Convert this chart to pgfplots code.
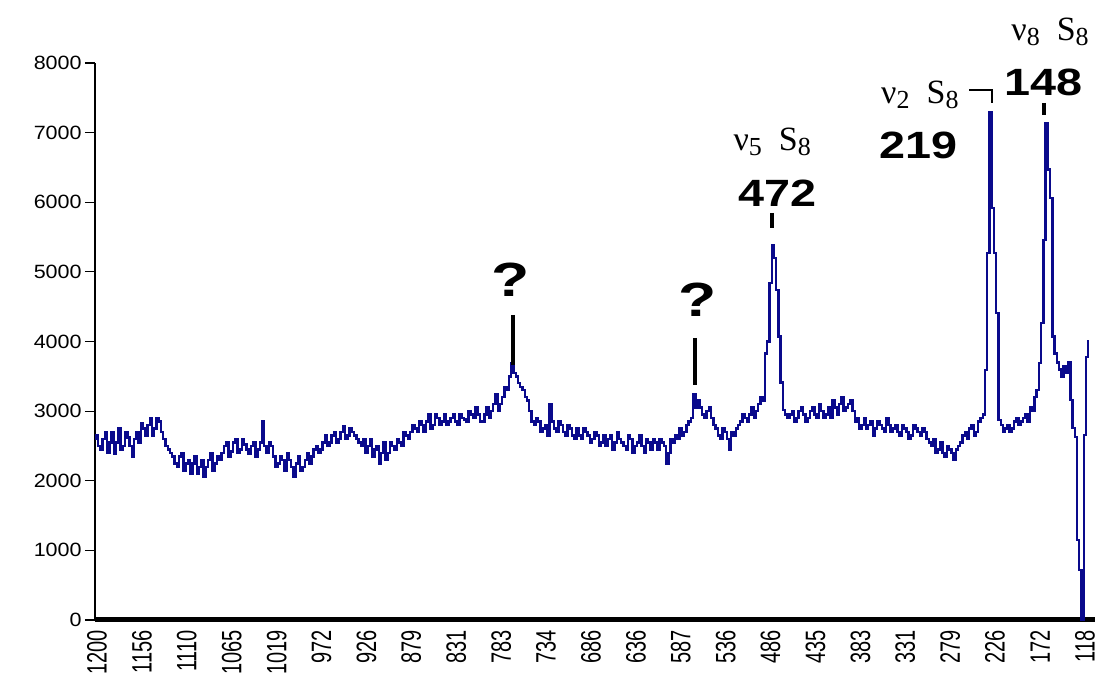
\documentclass[border=0pt]{standalone}
\usepackage{pgfplots}
\pgfplotsset{compat=1.18}
\usepackage{fontspec}
\setmainfont{Liberation Sans}
\newfontfamily\timesf{Liberation Serif}
\usepackage{graphicx}
\usetikzlibrary{calc}
\definecolor{navy}{RGB}{10,10,140}
\newcommand{\xl}[1]{\scalebox{1.4}[1]{\rotatebox{90}{#1}}}
\newcommand{\nulab}[1]{{\timesf\fontsize{17}{17}\selectfont ν\raisebox{-0.35ex}{\fontsize{13}{13}\selectfont #1}\hspace{0.5em}S\raisebox{-0.35ex}{\fontsize{13}{13}\selectfont 8}}}
\newcommand{\bnum}[1]{{\bfseries\fontsize{19}{19}\selectfont\scalebox{1.23}[1]{#1}}}
\newcommand{\qm}{{\bfseries\fontsize{24}{24}\selectfont\scalebox{1.3}[1]{?}}}

\pgfplotstableread{
k v
-0.9 2600
0 2650
1 2500
2 2450
3 2600
4 2700
5 2400
6 2550
7 2700
8 2380
9 2550
10 2750
11 2450
12 2500
13 2700
14 2620
15 2500
16 2350
17 2600
18 2700
19 2550
20 2820
21 2750
22 2650
23 2800
24 2900
25 2650
26 2750
27 2900
28 2850
29 2700
30 2600
31 2500
32 2450
33 2400
34 2350
35 2250
36 2200
37 2350
38 2400
39 2150
40 2250
41 2300
42 2100
43 2250
44 2350
45 2100
46 2200
47 2300
48 2050
49 2200
50 2300
51 2400
52 2150
53 2250
54 2350
55 2300
56 2400
57 2500
58 2550
59 2350
60 2420
61 2550
62 2600
63 2400
64 2450
65 2600
66 2520
67 2450
68 2380
69 2500
70 2550
71 2350
72 2450
73 2550
74 2850
75 2500
76 2400
77 2550
78 2500
79 2350
80 2200
81 2250
82 2350
83 2300
84 2150
85 2400
86 2300
87 2200
88 2050
89 2250
90 2350
91 2150
92 2200
93 2300
94 2400
95 2250
96 2350
97 2450
98 2500
99 2400
100 2450
101 2550
102 2650
103 2500
104 2550
105 2650
106 2700
107 2550
108 2600
109 2700
110 2780
111 2600
112 2650
113 2750
114 2700
115 2650
116 2600
117 2550
118 2500
119 2600
120 2400
121 2500
122 2600
123 2350
124 2450
125 2500
126 2250
127 2400
128 2550
129 2300
130 2400
131 2550
132 2500
133 2450
134 2600
135 2550
136 2500
137 2700
138 2650
139 2600
140 2700
141 2800
142 2750
143 2700
144 2850
145 2800
146 2700
147 2850
148 2950
149 2750
150 2800
151 2950
152 2900
153 2800
154 2850
155 2950
156 2800
157 2850
158 2900
159 2950
160 2850
161 2800
162 2950
163 2900
164 2880
165 2850
166 3000
167 2950
168 2900
169 3050
170 2950
171 2850
172 2850
173 2950
174 3050
175 2900
176 3000
177 3100
178 3250
179 3000
180 3100
181 3200
182 3350
183 3300
184 3500
185 3690
186 3550
187 3500
188 3400
189 3350
190 3300
191 3200
192 3150
193 3000
194 2850
195 2800
196 2900
197 2850
198 2700
199 2750
200 2800
201 2650
202 3100
203 2850
204 2750
205 2700
206 2850
207 2800
208 2700
209 2650
210 2800
211 2750
212 2650
213 2600
214 2750
215 2650
216 2600
217 2750
218 2700
219 2650
220 2550
221 2600
222 2700
223 2650
224 2500
225 2550
226 2650
227 2500
228 2600
229 2650
230 2450
231 2550
232 2700
233 2600
234 2550
235 2500
236 2450
237 2650
238 2600
239 2400
240 2500
241 2550
242 2650
243 2500
244 2400
245 2600
246 2550
247 2450
248 2600
249 2550
250 2450
251 2600
252 2550
253 2500
254 2250
255 2400
256 2600
257 2550
258 2650
259 2600
260 2750
261 2650
262 2700
263 2800
264 2850
265 2900
266 3250
267 3050
268 3150
269 3050
270 2950
271 2900
272 3000
273 3050
274 2900
275 2800
276 2750
277 2650
278 2600
279 2750
280 2700
281 2600
282 2450
283 2700
284 2650
285 2750
286 2800
287 2850
288 2950
289 2900
290 2850
291 2950
292 3050
293 2900
294 3000
295 3100
296 3200
297 3150
298 3830
299 4000
300 4840
301 5390
302 5200
303 4740
304 4070
305 3410
306 3020
307 2950
308 2900
309 2950
310 3000
311 2850
312 2900
313 3000
314 3050
315 2950
316 2850
317 2900
318 3000
319 3050
320 2950
321 2900
322 3100
323 3000
324 2900
325 2950
326 3050
327 2900
328 3150
329 3050
330 2950
331 3100
332 3200
333 3000
334 3050
335 3100
336 3150
337 3000
338 2850
339 2900
340 2750
341 2800
342 2900
343 2750
344 2800
345 2850
346 2650
347 2750
348 2850
349 2800
350 2750
351 2700
352 2900
353 2800
354 2700
355 2750
356 2800
357 2700
358 2650
359 2800
360 2750
361 2700
362 2600
363 2650
364 2800
365 2750
366 2700
367 2650
368 2750
369 2700
370 2600
371 2550
372 2500
373 2600
374 2400
375 2450
376 2550
377 2400
378 2350
379 2500
380 2450
381 2400
382 2300
383 2450
384 2500
385 2550
386 2650
387 2700
388 2600
389 2750
390 2800
391 2650
392 2700
393 2850
394 2900
395 2950
396 3590
397 5270
398 7290
399 5920
400 5270
401 4410
402 2870
403 2800
404 2700
405 2750
406 2800
407 2700
408 2750
409 2850
410 2900
411 2800
412 2850
413 2900
414 2950
415 2850
416 3050
417 3000
418 3200
419 3300
420 3690
421 4270
422 5460
423 7140
424 6470
425 6060
426 4070
427 3830
428 3700
429 3600
430 3500
431 3650
432 3550
433 3700
434 3160
435 2760
436 2630
437 1150
438 720
439 0
440 2660
441 3780
442 4000
}\spectrum

\begin{document}
\begin{tikzpicture}
\begin{axis}[name=ax, scale only axis, width=500pt, height=278.5pt,
  xmin=-0.9, xmax=444.5, ymin=0, ymax=8000,
  axis x line*=bottom, axis y line*=left,
  x axis line style={line width=2.5pt,-},
  y axis line style={line width=0.6pt,-},
  tick align=outside, major tick length=5pt,
  xtick={0,20,...,440},
  xticklabels={\xl{1200},\xl{1156},\xl{1110},\xl{1065},\xl{1019},\xl{972},\xl{926},\xl{879},\xl{831},\xl{783},\xl{734},\xl{686},\xl{636},\xl{587},\xl{536},\xl{486},\xl{435},\xl{383},\xl{331},\xl{279},\xl{226},\xl{172},\xl{118}},
  xtick style={draw=none},
  xticklabel style={anchor=north, inner sep=0pt, font=\fontsize{10}{10}\selectfont},
  ytick={0,1000,...,8000},
  ytick style={line width=0.6pt, black},
  yticklabel={\scalebox{1.12}[1]{\pgfmathprintnumber[assume math mode=true,1000 sep={}]{\tick}}},
  yticklabel style={anchor=east, inner sep=0pt, xshift=-1.5pt, font=\fontsize{9.6}{10}\selectfont},
  clip=false]
\addplot[const plot mark mid, navy, line width=1.2pt] table[x=k, y=v] {\spectrum};
\node at (axis cs:184,4885) {\qm};
\draw[line width=2pt] (axis cs:185.3,4382) -- (axis cs:185.3,3664);
\node at (axis cs:267.3,4598) {\qm};
\draw[line width=2pt] (axis cs:266.4,4052) -- (axis cs:266.4,3376);
\node at (axis cs:300.7,6868) {\nulab{5}};
\node at (axis cs:303,6135) {\bnum{472}};
\draw[line width=2pt] (axis cs:300.7,5848) -- (axis cs:300.7,5632);
\node at (axis cs:366.5,7543) {\nulab{2}};
\draw[line width=1.2pt] (axis cs:388.4,7615) -- (axis cs:398.7,7615) -- (axis cs:398.7,7428);
\node at (axis cs:365.7,6810) {\bnum{219}};
\node at (axis cs:424.5,8448) {\nulab{8}};
\node at (axis cs:421.4,7716) {\bnum{148}};
\draw[line width=2pt] (axis cs:422,7428) -- (axis cs:422,7250);
\end{axis}
\pgfresetboundingbox
\path ($(ax.south west)+(-47.5pt,-35pt)$) rectangle ($(ax.south west)+(501.5pt,310pt)$);
\end{tikzpicture}
\end{document}
